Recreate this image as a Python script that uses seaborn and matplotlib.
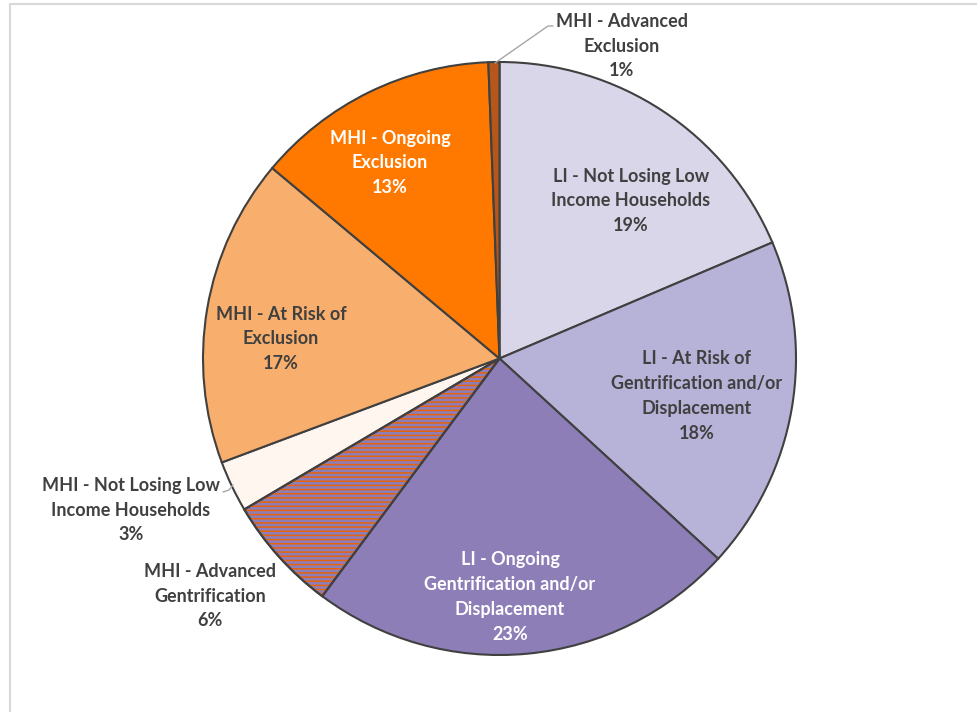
import matplotlib
matplotlib.use("Agg")
import matplotlib.pyplot as plt
from matplotlib.patches import Wedge
from matplotlib.lines import Line2D
import seaborn as sns

categories = [
    "LI - Not Losing Low\nIncome Households",
    "LI - At Risk of\nGentrification and/or\nDisplacement",
    "LI - Ongoing\nGentrification and/or\nDisplacement",
    "MHI - Advanced\nGentrification",
    "MHI - Not Losing Low\nIncome Households",
    "MHI - At Risk of\nExclusion",
    "MHI - Ongoing\nExclusion",
    "MHI - Advanced\nExclusion",
]
shares = [18.6, 18.2, 23.4, 6.3, 2.8, 16.8, 13.3, 0.6]
colors = ["#DAD6EA", "#B7B2D7", "#8D7EB8", "#8D7EB8", "#FEF6EF", "#F8AE6C", "#FF7900", "#B5561A"]
text_colors = ["#404040", "#404040", "white", "#404040", "#404040", "#404040", "white", "#404040"]
# label centres in pixel coords (x, y from top)
label_pos = [(631, 201), (697, 396), (510, 597), (210, 596), (131, 510), (281, 339), (390, 163), (622, 46)]

sns.set_theme(style="white")
plt.rcParams["font.family"] = ["Lato", "DejaVu Sans"]

W, H = 977, 712
fig = plt.figure(figsize=(W / 100, H / 100), dpi=100)
ax = fig.add_axes([0, 0, 1, 1])
ax.axis("off")

cx, cy, R = 499.5, H - 358.5, 296.5
wedges, _ = ax.pie(shares, colors=colors, startangle=90, counterclock=False,
                   center=(cx, cy), radius=R,
                   wedgeprops=dict(edgecolor="#404040", linewidth=1.5))
ax.set_xlim(0, W)
ax.set_ylim(0, H)
ax.set_aspect("auto")

# hatch overlay for the "Advanced Gentrification" slice
plt.rcParams["hatch.linewidth"] = 1.1
w = wedges[3]
hatch = Wedge((cx, cy), R, w.theta1, w.theta2, facecolor="none",
              edgecolor="#E8620A", linewidth=0, hatch="----", zorder=w.get_zorder() + 0.1)
ax.add_patch(hatch)
border = Wedge((cx, cy), R, w.theta1, w.theta2, facecolor="none",
               edgecolor="#404040", linewidth=1.5, zorder=w.get_zorder() + 0.2)
ax.add_patch(border)

for cat, v, (px, py), tc in zip(categories, shares, label_pos, text_colors):
    ax.text(px, H - py, f"{cat}\n{v:.0f}%", ha="center", va="center",
            fontsize=13, fontweight="bold", color=tc, linespacing=1.55)

# leader lines
ax.plot([495, 548, 553], [H - 63, H - 26, H - 26], color="#A6A6A6", lw=1)
ax.plot([223, 229, 233], [H - 492, H - 490, H - 485], color="#A6A6A6", lw=1)

# chart area border (partially visible)
fig.add_artist(Line2D([10 / W, 10 / W], [0, 1 - 4 / H], color="#D9D9D9", lw=1.5))
fig.add_artist(Line2D([10 / W, 1], [1 - 4 / H, 1 - 4 / H], color="#D9D9D9", lw=1.5))

fig.savefig("out.png", dpi=100)
